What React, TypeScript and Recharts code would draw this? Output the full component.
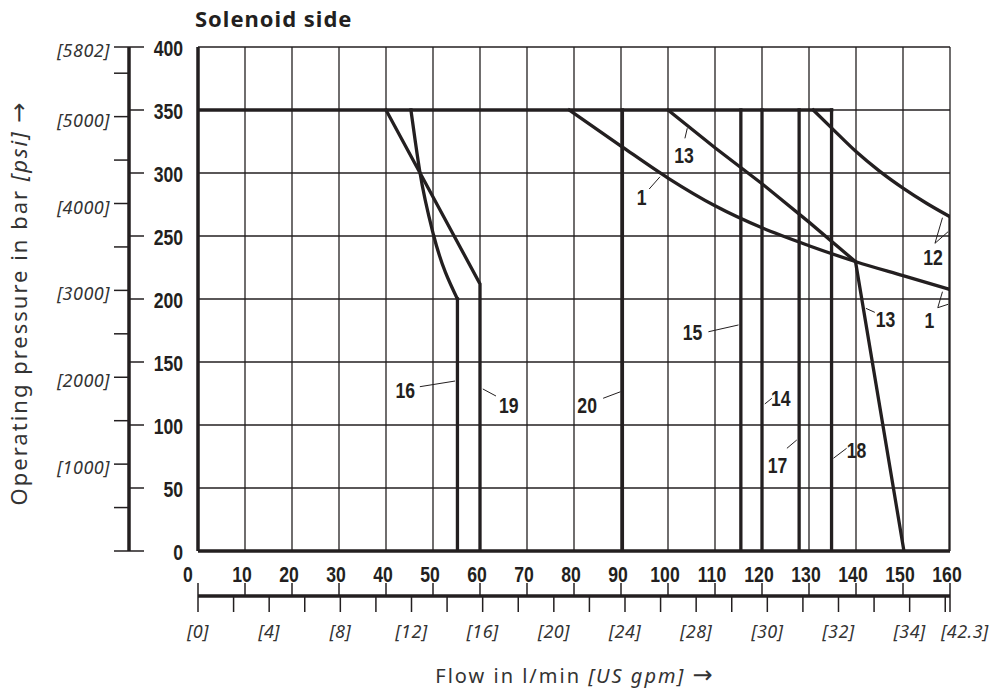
import React from "react";
import {
  CartesianGrid,
  Label,
  Line,
  LineChart,
  ReferenceDot,
  ReferenceLine,
  XAxis,
  YAxis,
} from "recharts";

const INK = "#231f20";
const SOFT_INK = "#333333";
const NUM_FONT = "'Liberation Sans', Arial, sans-serif";
const TEXT_FONT = "'Noto Sans', 'Open Sans', sans-serif";
const ARROW_FONT = "'DejaVu Sans', sans-serif";
const NARROW = 0.8; // horizontal squeeze for the condensed numerals
const LPM_PER_GPM = 3.78541;
const PSI_PER_BAR = 14.5038;

// axis ticks
const flowTicks = [0, 10, 20, 30, 40, 50, 60, 70, 80, 90, 100, 110, 120, 130, 140, 150, 160];
const pressureTicks = [0, 50, 100, 150, 200, 250, 300, 350, 400];
const psiTicks = [0, 500, 1000, 1500, 2000, 2500, 3000, 3500, 4000, 4500, 5000, 5500, 400 * PSI_PER_BAR];
const psiLabels = ["", "", "[1000]", "", "[2000]", "", "[3000]", "", "[4000]", "", "[5000]", "", "[5802]"];
const gpmTicks = [0, 2, 4, 6, 8, 10, 12, 14, 16, 18, 20, 22, 24, 26, 28, 30, 32, 34, 36, 38, 40, 42, 160 / LPM_PER_GPM];
const gpmLabels = ["[0]", "", "[4]", "", "[8]", "", "[12]", "", "[16]", "", "[20]", "", "[24]", "", "[28]", "", "[30]", "", "[32]", "", "[34]", "", "[42.3]"];

// characteristic curves: q = flow (l/min), p = pressure (bar)
const ratedLimit = [{ q: 0, p: 350 }, { q: 134.8, p: 350 }];
const curve16 = [
  { q: 45.3, p: 350 }, { q: 46.2, p: 326 }, { q: 47.2, p: 301 },
  { q: 50.1, p: 251 }, { q: 55.2, p: 200 },
];
const curve16Stem = [{ q: 55.2, p: 200 }, { q: 55.2, p: 0 }];
const curve19 = [{ q: 40, p: 350 }, { q: 60, p: 212 }, { q: 60, p: 0 }];
const curve20 = [{ q: 90.3, p: 350 }, { q: 90.3, p: 0 }];
const curve15 = [{ q: 115.5, p: 350 }, { q: 115.5, p: 0 }];
const curve14 = [{ q: 120, p: 350 }, { q: 120, p: 0 }];
const curve17 = [{ q: 127.9, p: 350 }, { q: 127.9, p: 0 }];
const curve18 = [{ q: 134.8, p: 350 }, { q: 134.8, p: 0 }];
const curve1 = [
  { q: 79, p: 350 }, { q: 90, p: 321.4 }, { q: 100, p: 296 }, { q: 110, p: 274 },
  { q: 120, p: 256.5 }, { q: 130, p: 242.3 }, { q: 140, p: 229.6 }, { q: 150, p: 218.5 },
  { q: 160, p: 207.5 },
];
const curve13 = [
  { q: 100, p: 350 }, { q: 110, p: 320 }, { q: 120, p: 291.5 }, { q: 130, p: 261 },
  { q: 139.9, p: 229.6 }, { q: 150.2, p: 0 },
];
const curve12 = [
  { q: 130.9, p: 350 }, { q: 135, p: 335 }, { q: 140, p: 317 }, { q: 145, p: 301.5 },
  { q: 150, p: 288 }, { q: 155, p: 276 }, { q: 160, p: 265.3 },
];
const curve12Stem = [{ q: 160, p: 265.3 }, { q: 160, p: 0 }];

const straightCurves = [ratedLimit, curve16Stem, curve19, curve20, curve15, curve14, curve17, curve18, curve13, curve12Stem];
const smoothCurves = [curve16, curve1, curve12];

// span of the US gpm scale, so that axis has a series of its own
const gpmSpan = [{ g: 0, p: 0 }, { g: 160 / LPM_PER_GPM, p: 0 }];

// curve numbers and their leader lines (l/min, bar)
const curveNames = ["16", "19", "20", "15", "14", "17", "18", "13", "1", "12", "1", "13"];
const nameAnchors = [
  [44.1, 121.4], [66.1, 109.5], [82.8, 109.5], [105.2, 167.5], [124, 115], [123.3, 61.9],
  [140.1, 73.6], [103.4, 307.9], [94.4, 274.6], [156.4, 227], [155.6, 177], [146.3, 177.8],
];
const leaders = [
  [[47.2, 130.4], [54.7, 134.9]],
  [[60.6, 128.6], [63.4, 123]],
  [[86.2, 121.2], [89.9, 126.4]],
  [[108.6, 174], [115, 179.4]],
  [[120.6, 116.7], [122.1, 121.2]],
  [[125.3, 81.5], [127.4, 88.1]],
  [[135.2, 73.6], [138, 81.5]],
  [[103.6, 327.5], [104.1, 335.5]],
  [[96, 287.3], [98.3, 297]],
  [[158.4, 264.5], [156.8, 244.2]],
  [[156.8, 244.2], [159.6, 253.4]],
  [[158.4, 205.8], [157.4, 193.1]],
  [[157.4, 193.1], [159.6, 195.8]],
  [[142.1, 192.6], [144, 189.4]],
];

// bold condensed numerals, drawn as Liberation Sans squeezed sideways
const Numeral = ({ x, y, anchor, children }: any) => (
  <text
    transform={`translate(${x} ${y}) scale(${NARROW} 1)`}
    textAnchor={anchor}
    fontFamily={NUM_FONT}
    fontWeight="bold"
    fontSize={22}
    fill={INK}
  >
    {children}
  </text>
);

const FlowTick = (props: any) => {
  const { x, y, payload } = props;
  return (
    <g>
      <Numeral x={x + (payload.value === 0 ? -10 : -3)} y={y + 31} anchor="middle">
        {payload.value}
      </Numeral>
      <line x1={x} x2={x} y1={y + 32} y2={y + 45} stroke={INK} strokeWidth={1.5} />
    </g>
  );
};

const GpmTick = (props: any) => {
  const { x, y, index } = props;
  const text = gpmLabels[index];
  if (!text) return <g />;
  const last = index === gpmTicks.length - 1;
  return (
    <text
      x={last ? x - 9 : x}
      y={y + 26}
      textAnchor={last ? "start" : "middle"}
      fontFamily={TEXT_FONT}
      fontStyle="italic"
      fontSize={18}
      letterSpacing={0.5}
      fill={SOFT_INK}
    >
      {text}
    </text>
  );
};

const PressureTick = (props: any) => {
  const { x, y, payload } = props;
  return (
    <g>
      <Numeral x={x - 15} y={y + 9} anchor="end">
        {payload.value}
      </Numeral>
      <line x1={x - 69} x2={x - 54} y1={y} y2={y} stroke={INK} strokeWidth={1.5} />
    </g>
  );
};

const PsiTick = (props: any) => {
  const { x, y, index } = props;
  const text = psiLabels[index];
  if (!text) return <g />;
  return (
    <text
      x={x}
      y={y + 10}
      textAnchor="end"
      fontFamily={TEXT_FONT}
      fontStyle="italic"
      fontSize={18}
      letterSpacing={0.5}
      fill={SOFT_INK}
    >
      {text}
    </text>
  );
};

const CurveName = (text: string) => (props: any) => (
  <Numeral x={props.cx} y={props.cy} anchor="middle">
    {text}
  </Numeral>
);

export default function App() {
  return (
    <div style={{ position: "absolute", left: 0, top: 0, width: 993, height: 690, background: "#fff" }}>
      <div
        style={{
          position: "absolute",
          left: 195,
          top: 7,
          fontFamily: TEXT_FONT,
          fontWeight: "bold",
          fontSize: 22,
          lineHeight: "22px",
          letterSpacing: 1,
          color: INK,
        }}
      >
        Solenoid side
      </div>
      <LineChart
        width={993}
        height={690}
        margin={{ top: 47, right: 43, bottom: 0, left: 0 }}
        style={{ position: "absolute", left: 0, top: 0 }}
      >
        <CartesianGrid xAxisId="flow" yAxisId="bar" stroke={INK} strokeWidth={1.3} />
        <XAxis
          xAxisId="flow"
          dataKey="q"
          type="number"
          domain={[0, 160]}
          ticks={flowTicks}
          interval={0}
          height={45}
          allowDataOverflow
          axisLine={{ stroke: INK, strokeWidth: 3.5 }}
          tickLine={false}
          tickSize={0}
          tickMargin={0}
          tick={FlowTick}
        />
        <XAxis
          xAxisId="gpm"
          dataKey="g"
          type="number"
          domain={[0, 160 / LPM_PER_GPM]}
          ticks={gpmTicks}
          interval={0}
          height={94}
          allowDataOverflow
          axisLine={{ stroke: INK, strokeWidth: 3.5 }}
          tickLine={{ stroke: INK, strokeWidth: 1.5 }}
          tickSize={16}
          tickMargin={0}
          tick={GpmTick}
        >
          <Label
            content={(p: any) => (
              <text
                x={p.viewBox.x + p.viewBox.width / 2}
                y={p.viewBox.y + 87}
                textAnchor="middle"
                fontFamily={TEXT_FONT}
                fontSize={20}
                letterSpacing={2}
                fill={SOFT_INK}
              >
                Flow in l/min <tspan fontStyle="italic">[US gpm]</tspan>{" "}
                <tspan fontFamily={ARROW_FONT} fontSize={24} letterSpacing={0}>→</tspan>
              </text>
            )}
          />
        </XAxis>
        <YAxis
          yAxisId="bar"
          type="number"
          domain={[0, 400]}
          ticks={pressureTicks}
          interval={0}
          width={69}
          allowDataOverflow
          axisLine={{ stroke: INK, strokeWidth: 3.5 }}
          tickLine={false}
          tickSize={0}
          tickMargin={0}
          tick={PressureTick}
        />
        <YAxis
          yAxisId="psi"
          type="number"
          domain={[0, 400 * PSI_PER_BAR]}
          ticks={psiTicks}
          interval={0}
          width={129}
          allowDataOverflow
          axisLine={{ stroke: INK, strokeWidth: 3.5 }}
          tickLine={{ stroke: INK, strokeWidth: 1.5 }}
          tickSize={15}
          tickMargin={4}
          tick={PsiTick}
        >
          <Label
            content={() => {
              const cx = 27;
              const cy = 304;
              return (
                <text
                  x={cx}
                  y={cy}
                  transform={`rotate(-90 ${cx} ${cy})`}
                  textAnchor="middle"
                  fontFamily={TEXT_FONT}
                  fontSize={22}
                  letterSpacing={2}
                  fill={SOFT_INK}
                >
                  Operating pressure in bar <tspan fontStyle="italic">[psi]</tspan>{" "}
                  <tspan fontFamily={ARROW_FONT} fontSize={24} letterSpacing={0}>→</tspan>
                </text>
              );
            }}
          />
        </YAxis>
        <Line
          data={gpmSpan}
          dataKey="p"
          xAxisId="gpm"
          yAxisId="bar"
          stroke="none"
          dot={false}
          activeDot={false}
          isAnimationActive={false}
        />
        {straightCurves.map((c, i) => (
          <Line
            key={`straight-${i}`}
            data={c}
            dataKey="p"
            xAxisId="flow"
            yAxisId="bar"
            type="linear"
            dot={false}
            activeDot={false}
            stroke={INK}
            strokeWidth={3.3}
            strokeLinecap="square"
            isAnimationActive={false}
          />
        ))}
        {smoothCurves.map((c, i) => (
          <Line
            key={`smooth-${i}`}
            data={c}
            dataKey="p"
            xAxisId="flow"
            yAxisId="bar"
            type="monotone"
            dot={false}
            activeDot={false}
            stroke={INK}
            strokeWidth={3.3}
            strokeLinecap="square"
            isAnimationActive={false}
          />
        ))}
        {leaders.map((seg, i) => (
          <ReferenceLine
            key={`leader-${i}`}
            xAxisId="flow"
            yAxisId="bar"
            segment={[{ x: seg[0][0], y: seg[0][1] }, { x: seg[1][0], y: seg[1][1] }]}
            stroke={INK}
            strokeWidth={1}
          />
        ))}
        {curveNames.map((name, i) => (
          <ReferenceDot
            key={`name-${i}`}
            xAxisId="flow"
            yAxisId="bar"
            x={nameAnchors[i][0]}
            y={nameAnchors[i][1]}
            r={0}
            shape={CurveName(name)}
          />
        ))}
      </LineChart>
    </div>
  );
}
